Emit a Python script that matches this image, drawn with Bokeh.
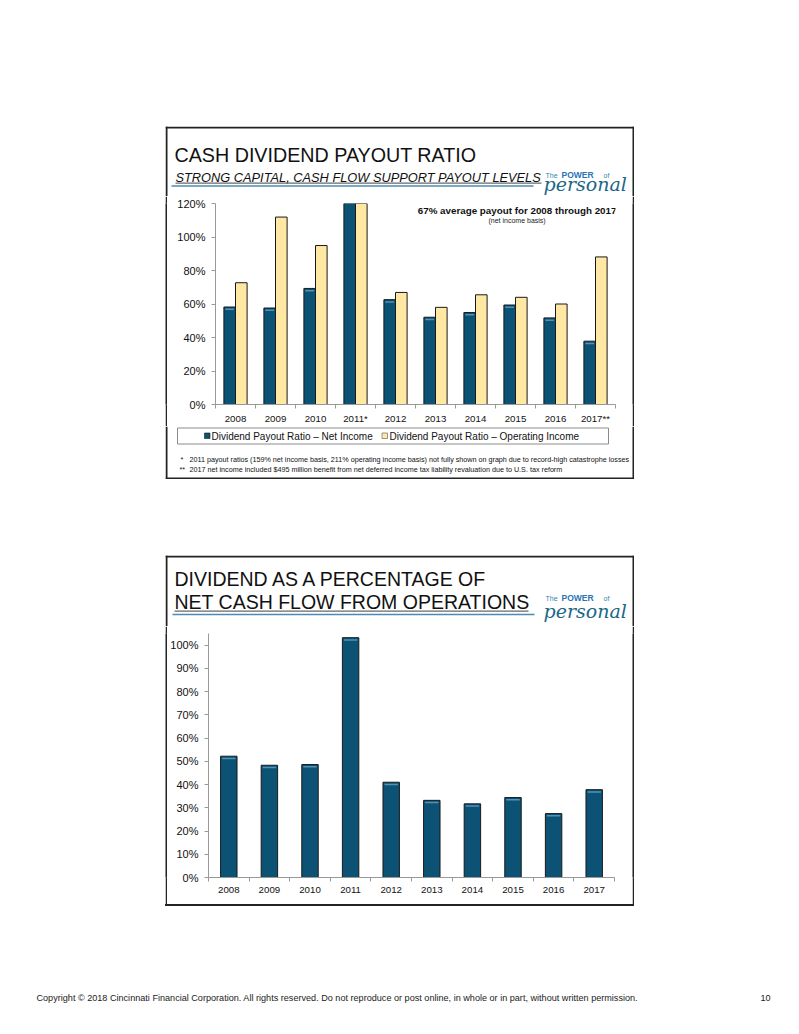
from bokeh.plotting import figure
from bokeh.layouts import column, row
from bokeh.models import Range1d, Label, FixedTicker, PrintfTickFormatter, Spacer, ColumnDataSource
from bokeh.embed import file_html
from bokeh.resources import INLINE

# ---------------- data ----------------
years_top = ["2008", "2009", "2010", "2011*", "2012", "2013", "2014", "2015", "2016", "2017**"]
payout_net_income = [58.2, 57.6, 69.3, 159.0, 62.6, 52.1, 54.9, 59.4, 51.7, 37.8]
payout_operating_income = [72.7, 111.9, 94.9, 211.0, 66.9, 58.0, 65.5, 64.0, 60.0, 88.1]
top_y_ticks = [0, 20, 40, 60, 80, 100, 120]

years_bottom = ["2008", "2009", "2010", "2011", "2012", "2013", "2014", "2015", "2016", "2017"]
dividend_pct_cash_flow = [52.2, 48.3, 48.6, 103.2, 41.0, 33.2, 31.7, 34.4, 27.5, 37.8]
bottom_y_ticks = [0, 10, 20, 30, 40, 50, 60, 70, 80, 90, 100]

legend_labels = ["Dividend Payout Ratio \u2013 Net Income", "Dividend Payout Ratio \u2013 Operating Income"]

# ---------------- style ----------------
FONT = "Liberation Sans"
NAVY = "#0c5275"
NAVY_HI = "#4f93bd"
YELLOW = "#fee8a4"
EDGE = "#1a1a1a"
BORDER = "#222222"
AXIS = "#999999"
BLUE_LINE = "#4a8bb5"
LOGO1 = "#2f86b0"
LOGO2 = "#2a73b5"
LOGO3 = "#1b6788"
MID = 0.35  # offset (in em) between baseline and text middle


def deco(x0, x1, y0, y1):
    f = figure(width=x1 - x0, height=y1 - y0, x_range=Range1d(x0, x1), y_range=Range1d(y1, y0),
               output_backend="svg", toolbar_location=None, min_border=0,
               x_axis_location=None, y_axis_location=None, outline_line_color=None,
               background_fill_color="white", border_fill_color="white")
    f.grid.visible = False
    return f


def side(h):
    f = figure(width=2, height=h, x_range=Range1d(0, 1), y_range=Range1d(0, 1),
               output_backend="svg", toolbar_location=None, min_border=0,
               x_axis_location=None, y_axis_location=None, outline_line_color=None,
               background_fill_color=BORDER, border_fill_color=BORDER)
    f.grid.visible = False
    f.scatter([0.5], [0.5], size=0.1, alpha=0)
    return f


def lab(p, x, y, text, size, color="#111111", style="normal", font=FONT, align="left"):
    # y is the text baseline in page pixels (y axis pointing down)
    px = float(size.replace("px", ""))
    p.add_layout(Label(x=x, y=y - MID * px, text=text, text_font=font, text_font_size=size,
                       text_font_style=style, text_color=color, text_baseline="middle",
                       text_align=align))


def frame_lines(p, x0, x1, y0, y1, top=False, bottom=False):
    p.segment(x0=[x0 + 1], y0=[y0], x1=[x0 + 1], y1=[y1], line_color=BORDER, line_width=2)
    p.segment(x0=[x1 - 1], y0=[y0], x1=[x1 - 1], y1=[y1], line_color=BORDER, line_width=2)
    if top:
        p.segment(x0=[x0], y0=[y0 + 1], x1=[x1], y1=[y0 + 1], line_color=BORDER, line_width=2)
    if bottom:
        p.segment(x0=[x0], y0=[y1 - 1], x1=[x1], y1=[y1 - 1], line_color=BORDER, line_width=2)


def logo(p, y_small, y_big):
    lab(p, 545, y_small, "The", "7px", LOGO1)
    lab(p, 561, y_small, "POWER", "8.5px", LOGO2, "bold")
    lab(p, 603, y_small, "of", "7px", LOGO1)
    lab(p, 543, y_big, "personal", "19px", LOGO3, "italic", "DejaVu Serif")


def style_axes(p, years, yticks, xsize, ysize, xstand):
    n = len(years)
    p.xaxis.ticker = FixedTicker(ticks=list(range(n)), minor_ticks=[i + 0.5 for i in range(-1, n)])
    p.xaxis.major_label_overrides = {i: y for i, y in enumerate(years)}
    p.xaxis.major_tick_line_color = None
    p.xaxis.major_tick_out = 0
    p.xaxis.major_tick_in = 0
    p.xaxis.minor_tick_out = 4
    p.xaxis.minor_tick_in = 0
    p.xaxis.minor_tick_line_color = AXIS
    p.xaxis.axis_line_color = AXIS
    p.xaxis.major_label_text_font = FONT
    p.xaxis.major_label_text_font_size = xsize
    p.xaxis.major_label_text_color = "#111111"
    p.xaxis.major_label_standoff = xstand
    p.yaxis.ticker = FixedTicker(ticks=yticks)
    p.yaxis.formatter = PrintfTickFormatter(format="%d%%")
    p.yaxis.major_tick_out = 4
    p.yaxis.major_tick_in = 0
    p.yaxis.major_tick_line_color = AXIS
    p.yaxis.minor_tick_line_color = None
    p.yaxis.axis_line_color = AXIS
    p.yaxis.major_label_text_font = FONT
    p.yaxis.major_label_text_font_size = ysize
    p.yaxis.major_label_text_color = "#111111"
    p.yaxis.major_label_standoff = 6
    p.grid.visible = False


# ================= PANEL 1 =================
h1 = deco(165, 634, 126, 196)
frame_lines(h1, 165, 634, 126, 196, top=True)
lab(h1, 174, 161.7, "CASH DIVIDEND PAYOUT RATIO", "19.7px")
lab(h1, 175, 181, "STRONG CAPITAL, CASH FLOW SUPPORT PAYOUT LEVELS", "12.8px", style="italic")
h1.segment(x0=[175], y0=[182.6], x1=[541], y1=[182.6], line_color="#111111", line_width=0.8)
h1.segment(x0=[171], y0=[185.5], x1=[533], y1=[185.5], line_color=BLUE_LINE, line_width=1.5)
logo(h1, 177.3, 190)

n1 = len(years_top)
src1 = ColumnDataSource(dict(
    x_ni=[i - 0.145 for i in range(n1)],
    x_oi=[i + 0.145 for i in range(n1)],
    ni=payout_net_income,
    oi=payout_operating_income,
    ni_hi_top=[v - 0.9 for v in payout_net_income],
    ni_hi_bot=[v - 1.8 for v in payout_net_income],
))
p1 = figure(width=465, height=230, x_range=Range1d(-0.5, n1 - 0.5), y_range=Range1d(0, 120),
            output_backend="svg", toolbar_location=None,
            min_border_left=48, min_border_right=17, min_border_top=7, min_border_bottom=21,
            outline_line_color=None, background_fill_color="white", border_fill_color="white")
p1.vbar(x="x_ni", top="ni", bottom=0, width=0.29, source=src1,
        fill_color=NAVY, line_color=EDGE, line_width=1)
p1.vbar(x="x_oi", top="oi", bottom=0, width=0.29, source=src1,
        fill_color=YELLOW, line_color=EDGE, line_width=1)
p1.vbar(x="x_ni", top="ni_hi_top", bottom="ni_hi_bot", width=0.22, source=src1,
        fill_color=NAVY_HI, line_color=None)
style_axes(p1, years_top, top_y_ticks, "9.7px", "11px", 4)
p1.add_layout(Label(x=7.04, y=115.9, text="67% average payout for 2008 through 2017",
                    text_font=FONT, text_font_size="9.8px", text_font_style="bold",
                    text_color="#111111", text_align="center", text_baseline="middle"))
p1.add_layout(Label(x=7.04, y=109.8, text="(net income basis)",
                    text_font=FONT, text_font_size="7px",
                    text_color="#222222", text_align="center", text_baseline="middle"))

f1 = deco(165, 634, 426, 479)
frame_lines(f1, 165, 634, 426, 479, bottom=True)
f1.quad(left=[177], right=[608], top=[427.5], bottom=[443.5], fill_color=None,
        line_color="#8c8c8c", line_width=1)
f1.quad(left=[204], right=[209.5], top=[432.5], bottom=[438], fill_color=NAVY,
        line_color=EDGE, line_width=0.6)
lab(f1, 211, 439, legend_labels[0], "10px")
f1.quad(left=[381.5], right=[387], top=[432.5], bottom=[438], fill_color=YELLOW,
        line_color="#555555", line_width=0.6)
lab(f1, 389, 439, legend_labels[1], "10px")
lab(f1, 180, 462, "*", "7.2px")
lab(f1, 189, 462, "2011 payout ratios (159% net income basis, 211% operating income basis) not fully shown on graph due to record-high catastrophe losses", "7.2px")
lab(f1, 179, 471.5, "**", "7.2px")
lab(f1, 189, 471.5, "2017 net income included $495 million benefit from net deferred income tax liability revaluation due to U.S. tax reform", "7.2px")

panel1 = column(h1, row(side(230), p1, side(230)), f1)

# ================= PANEL 2 =================
h2 = deco(165, 634, 555, 626)
frame_lines(h2, 165, 634, 555, 626, top=True)
lab(h2, 174, 585.7, "DIVIDEND AS A PERCENTAGE OF", "19.5px")
lab(h2, 174, 608.3, "NET CASH FLOW FROM OPERATIONS", "19.5px")
h2.segment(x0=[174], y0=[610.6], x1=[528], y1=[610.6], line_color="#111111", line_width=0.8)
h2.segment(x0=[172], y0=[614], x1=[534], y1=[614], line_color=BLUE_LINE, line_width=1.5)
logo(h2, 600, 617)

n2 = len(years_bottom)
src2 = ColumnDataSource(dict(
    x=list(range(n2)),
    v=dividend_pct_cash_flow,
    hi_top=[v - 0.65 for v in dividend_pct_cash_flow],
    hi_bot=[v - 1.3 for v in dividend_pct_cash_flow],
))
p2 = figure(width=465, height=278, x_range=Range1d(-0.5, n2 - 0.5), y_range=Range1d(0, 105),
            output_backend="svg", toolbar_location=None,
            min_border_left=40, min_border_right=18, min_border_top=7, min_border_bottom=27,
            outline_line_color=None, background_fill_color="white", border_fill_color="white")
p2.vbar(x="x", top="v", bottom=0, width=0.405, source=src2,
        fill_color=NAVY, line_color=EDGE, line_width=1)
p2.vbar(x="x", top="hi_top", bottom="hi_bot", width=0.33, source=src2,
        fill_color=NAVY_HI, line_color=None)
style_axes(p2, years_bottom, bottom_y_ticks, "9.7px", "11px", 5)

bottom_edge = Spacer(width=469, height=2, styles={"background-color": BORDER})

panel2 = column(h2, row(side(278), p2, side(278)), bottom_edge)

# ================= PAGE FOOTER =================
pf = deco(0, 799, 906, 1026)
lab(pf, 36, 1001, "Copyright \u00a9 2018 Cincinnati Financial Corporation. All rights reserved. Do not reproduce or post online, in whole or in part, without written permission.", "9.1px", "#222222")
lab(pf, 760, 1001, "10", "9.1px", "#222222")

page = column(
    Spacer(width=799, height=126),
    row(Spacer(width=165, height=353), panel1),
    Spacer(width=799, height=76),
    row(Spacer(width=165, height=351), panel2),
    pf,
)

open("out.html", "w").write(file_html(page, INLINE))
